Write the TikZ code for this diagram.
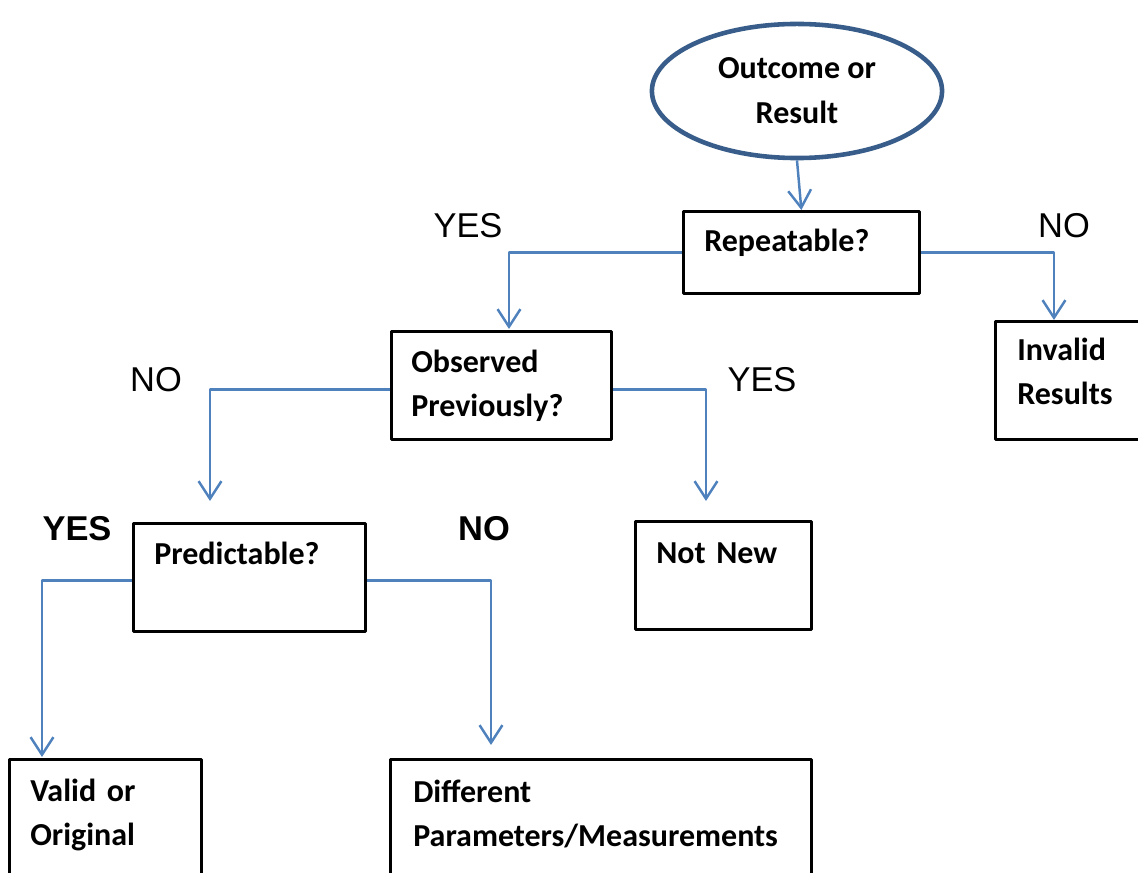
\documentclass[tikz,border=0pt]{standalone}
\usepackage{fontspec}
\setmainfont{Carlito}
\newfontfamily\arialfont{Liberation Sans}
\usetikzlibrary{arrows.meta,shapes.geometric}
\definecolor{linkblue}{RGB}{79,129,189}
\definecolor{ringblue}{RGB}{56,93,138}
\begin{document}
\begin{tikzpicture}[x=0.01cm,y=-0.01cm,line join=round,>={Straight Barb[length=5pt,width=6.5pt]},
	qbox/.style={draw,line width=0.75pt,anchor=north west,inner xsep=0.21cm,inner ysep=0pt,align=left,
		font=\fontsize{9.1}{12.6}\selectfont\bfseries},
	link/.style={draw=linkblue,line width=0.7pt},
	lbl/.style={inner sep=0pt,font=\arialfont\fontsize{9.8}{12}\selectfont}]
	\clip (0,0) rectangle (1138,873);
	% start
	\node[draw=ringblue,line width=1.3pt,ellipse,minimum width=2.90cm,minimum height=1.34cm,inner sep=0pt,
		align=center,font=\fontsize{9.1}{12.8}\selectfont\bfseries] (res) at (797,91) {Outcome or\\Result};
	% boxes
	\node[qbox,text width=1.94cm,text height=0.40cm,text depth=0.42cm] (rep) at (682,210) {Repeatable?};
	\node[qbox,inner xsep=0.20cm,text width=1.80cm,text height=0.41cm,text depth=0.67cm] (obs) at (390,330) {Observed\\Previously?};
	\node[qbox,inner xsep=0.22cm,text width=1.56cm,text height=0.39cm,text depth=0.79cm] (inv) at (994,320) {Invalid\\Results};
	\node[qbox,text width=1.90cm,text height=0.41cm,text depth=0.67cm] (pred) at (132,522) {Predictable?};
	\node[qbox,text width=1.34cm,text height=0.42cm,text depth=0.66cm] (notnew) at (634,520) {Not New};
	\node[qbox,text width=1.50cm,text height=0.42cm,text depth=1.00cm] (valid) at (8,758) {Valid or\\Original};
	\node[qbox,inner xsep=0.23cm,text width=3.75cm,text height=0.43cm,text depth=1.00cm] (diff) at (389,758) {Different\\Parameters/Measurements};
	% arrow ends
	\coordinate (a1) at (509,329);
	\coordinate (a2) at (1054,320);
	\coordinate (a3) at (210,501);
	\coordinate (a4) at (706,501);
	\coordinate (a5) at (42,757);
	\coordinate (a6) at (491,745);
	\draw[link,->] (res.south) -- (rep.north);
	\draw[link,->] (rep.west) -| (a1);
	\draw[link,->] (rep.east) -| (a2);
	\draw[link,->] ([yshift=-0.04cm]obs.west) -| (a3);
	\draw[link,->] ([yshift=-0.04cm]obs.east) -| (a4);
	\draw[link,->] ([yshift=-0.03cm]pred.west) -| (a5);
	\draw[link,->] ([yshift=-0.03cm]pred.east) -| (a6);
	% answers
	\node[lbl] (yes1) at (468,226) {YES};
	\node[lbl] (no1) at (1064,226) {NO};
	\node[lbl] (no2) at (156,380) {NO};
	\node[lbl] (yes2) at (762,380) {YES};
	\node[lbl,font=\arialfont\fontsize{9.8}{12}\selectfont\bfseries] (yes3) at (77,529) {YES};
	\node[lbl,font=\arialfont\fontsize{9.8}{12}\selectfont\bfseries] (no3) at (484,529) {NO};
\end{tikzpicture}
\end{document}
